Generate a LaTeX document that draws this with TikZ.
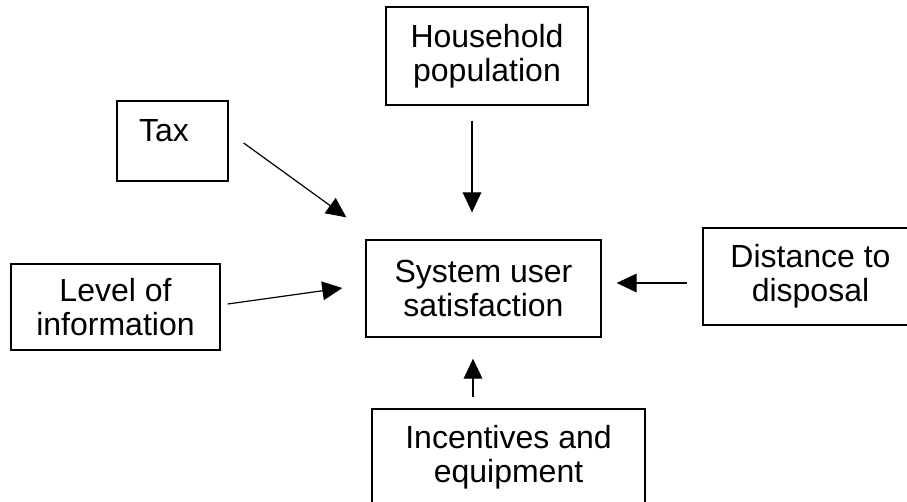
\documentclass[tikz,border=0pt]{standalone}
\usepackage{fontspec}
\setmainfont{Liberation Sans}
\usetikzlibrary{arrows.meta,calc}

\begin{document}
\begin{tikzpicture}[
    x=0.75pt,y=-0.75pt,
    caja/.style={draw,line width=1pt,inner sep=0pt,align=center,font=\fontsize{24}{25.5}\selectfont},
    flecha/.style={-{Triangle[length=15pt,width=14pt]},line width=0.9pt}]
    \path[use as bounding box,clip] (0,0) rectangle (907,502);
    \fill[white] (0,0) rectangle (907,502);
    \node[caja,minimum width=176.25pt,minimum height=72.75pt] (satisfaction) at (483.5,288.5) {System user\\satisfaction};
    \node[caja,minimum width=151.5pt,minimum height=73.5pt] (household) at (487,56) {Household\\population};
    \node[caja,minimum width=83.25pt,minimum height=60pt,text width=50pt,align=left,text depth=15.75pt] (tax) at (172.5,141) {Tax};
    \node[caja,minimum width=156.75pt,minimum height=64.5pt] (information) at (115.5,307) {Level of\\information};
    \node[caja,minimum width=161.25pt,minimum height=72.75pt] (distance) at (810.5,276.5) {Distance to\\disposal};
    \node[caja,minimum width=204.75pt,minimum height=72.75pt] (incentives) at (508.5,457.5) {Incentives and\\equipment};
    \draw[flecha] ($(household.south)+(-15,15)$) -- ($(satisfaction.north)+(-11.5,-27)$);
    \draw[flecha] ($(tax.east)+(15,2)$) -- ($(satisfaction.north west)+(-19,-22)$);
    \draw[flecha] ($(information.east)+(7,-3)$) -- ($(satisfaction.west)+(-23,-0.5)$);
    \draw[flecha] ($(distance.west)+(-15,6.5)$) -- ($(satisfaction.east)+(15,-5.5)$);
    \draw[flecha] ($(incentives.north)+(-35.5,-11.5)$) -- ($(satisfaction.south)+(-10.5,21)$);
  \end{tikzpicture}
\end{document}
